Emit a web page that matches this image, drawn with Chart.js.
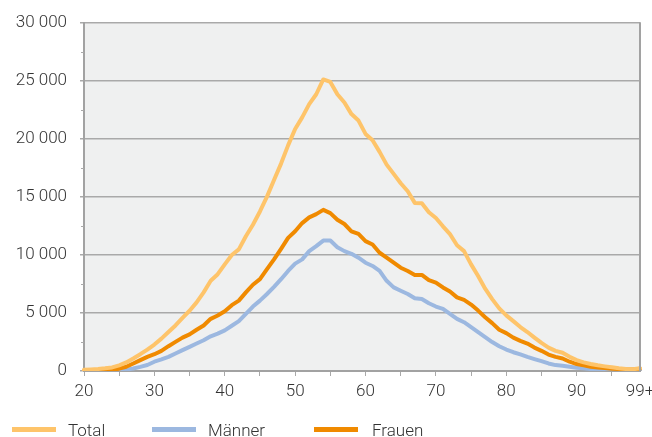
<!DOCTYPE html>
<html>
<head>
<meta charset="utf-8">
<script src="https://cdn.jsdelivr.net/npm/chart.js@4.4.1/dist/chart.umd.min.js"></script>
<style>
  html, body { margin: 0; padding: 0; background: #ffffff; }
  #wrap { position: relative; width: 652px; height: 437px; overflow: hidden; }
  #chart { position: absolute; left: 0; top: 0; }
  .lg-item { position: absolute; top: 0; height: 437px; }
  .lg-swatch { position: absolute; top: 427px; height: 5px; width: 44px; }
  .lg-text { position: absolute; top: 420px; line-height: 20px; font: 300 17px Roboto, "Open Sans", sans-serif; color: #333333; white-space: nowrap; }
</style>
</head>
<body>
<div id="wrap">
  <canvas id="chart" width="652" height="437"></canvas>
  <div id="legend"></div>
</div>
<script>
// Age groups on the x axis
const ages = [
  '20','21','22','23','24','25','26','27','28','29',
  '30','31','32','33','34','35','36','37','38','39',
  '40','41','42','43','44','45','46','47','48','49',
  '50','51','52','53','54','55','56','57','58','59',
  '60','61','62','63','64','65','66','67','68','69',
  '70','71','72','73','74','75','76','77','78','79',
  '80','81','82','83','84','85','86','87','88','89',
  '90','91','92','93','94','95','96','97','98','99+'
];

// Labelled x ticks
const xTickLabels = ['20','30','40','50','60','70','80','90','99+'];

// Labelled y ticks
const yTickValues = [0, 5000, 10000, 15000, 20000, 25000, 30000];

const seriesNames = ['Total', 'Männer', 'Frauen'];
const seriesColors = ['#fec46a', '#9cb8e0', '#f08a00'];

const total = [
  110, 140, 170, 230, 310, 490, 740, 1080, 1450, 1850,
  2280, 2790, 3360, 3930, 4590, 5200, 5920, 6780, 7780, 8350,
  9200, 10000, 10490, 11620, 12620, 13760, 15040, 16470, 17890, 19460,
  20880, 21880, 23020, 23870, 25150, 24930, 23870, 23160, 22160, 21600,
  20450, 19900, 18900, 17800, 17000, 16200, 15500, 14500, 14470, 13700,
  13200, 12480, 11800, 10850, 10340, 9200, 8200, 7100, 6200, 5400,
  4800, 4300, 3790, 3360, 2880, 2420, 2020, 1740, 1570, 1220,
  940, 740, 600, 490, 400, 320, 230, 170, 150, 230
];

const maenner = [
  10, 10, 20, 30, 40, 60, 120, 220, 360, 520,
  800, 1000, 1220, 1510, 1800, 2080, 2370, 2650, 2990, 3220,
  3500, 3900, 4300, 4930, 5560, 6070, 6640, 7260, 7920, 8630,
  9260, 9630, 10340, 10770, 11250, 11250, 10680, 10340, 10110, 9770,
  9340, 9060, 8630, 7780, 7210, 6920, 6640, 6270, 6210, 5840,
  5560, 5360, 4930, 4500, 4210, 3790, 3360, 2930, 2500, 2140,
  1850, 1620, 1430, 1220, 1030, 850, 650, 510, 450, 370,
  280, 230, 170, 140, 110, 80, 60, 50, 40, 40
];

const frauen = [
  30, 40, 60, 80, 110, 200, 370, 650, 940, 1220,
  1450, 1740, 2140, 2510, 2880, 3160, 3560, 3930, 4500, 4790,
  5150, 5680, 6070, 6780, 7440, 7920, 8780, 9630, 10540, 11480,
  12050, 12760, 13250, 13530, 13900, 13620, 13050, 12680, 12050, 11820,
  11200, 10910, 10200, 9770, 9340, 8910, 8630, 8290, 8290, 7840,
  7630, 7210, 6860, 6350, 6130, 5730, 5210, 4640, 4130, 3560,
  3270, 2880, 2600, 2370, 2020, 1740, 1420, 1220, 1080, 800,
  600, 490, 370, 310, 260, 200, 170, 140, 140, 200
];

const seriesData = [total, maenner, frauen];

const GRID = '#a9a9a9';
const AXIS = '#a2a2a2';
const TEXT = '#333333';
const FONT = { family: 'Roboto, "Open Sans", sans-serif', size: 17, weight: 300 };

function fmtThousands(v) {
  return String(v).replace(/\B(?=(\d{3})+(?!\d))/g, ' ');
}

// Plot background, right/top frame and short minor ticks on the value axis
const frame = {
  id: 'frame',
  beforeDraw(chart) {
    const { ctx, chartArea: a } = chart;
    ctx.save();
    ctx.fillStyle = '#eff0f0';
    ctx.fillRect(a.left, a.top, a.right - a.left, a.bottom - a.top);
    ctx.restore();
  },
  afterDraw(chart) {
    const { ctx, chartArea: a, scales } = chart;
    ctx.save();
    ctx.strokeStyle = AXIS;
    ctx.lineWidth = 2;
    ctx.beginPath();
    ctx.moveTo(a.right, a.top - 1);
    ctx.lineTo(a.right, a.bottom);
    ctx.stroke();
    ctx.lineWidth = 1;
    ctx.strokeStyle = GRID;
    for (let v = 2500; v < 30000; v += 5000) {
      const y = Math.round(scales.y.getPixelForValue(v)) + 0.5;
      ctx.beginPath();
      ctx.moveTo(a.left - 3, y);
      ctx.lineTo(a.left, y);
      ctx.stroke();
    }
    ctx.restore();
  }
};

const drawOrder = [0, 2, 1];

new Chart(document.getElementById('chart'), {
  type: 'line',
  data: {
    labels: ages,
    datasets: seriesNames.map((name, i) => ({
      label: name,
      data: seriesData[i],
      borderColor: seriesColors[i],
      backgroundColor: seriesColors[i],
      borderWidth: 4,
      pointRadius: 0,
      tension: 0,
      borderJoinStyle: 'round',
      borderCapStyle: 'round',
      fill: false,
      order: drawOrder[i]
    }))
  },
  options: {
    responsive: false,
    animation: false,
    layout: { padding: { left: 0, right: 12, top: 20, bottom: 36 } },
    plugins: { legend: { display: false }, tooltip: { enabled: false } },
    scales: {
      x: {
        type: 'category',
        offset: false,
        afterFit(s) { s.height = 30; s.paddingLeft = 0; s.paddingRight = 0; },
        border: { color: AXIS, width: 2 },
        grid: {
          drawOnChartArea: false,
          drawTicks: true,
          tickLength: 5,
          tickWidth: 1,
          tickColor: (c) => (c.index % 5 === 0 && c.index < ages.length - 1) ? GRID : 'rgba(0,0,0,0)'
        },
        ticks: {
          autoSkip: false,
          maxRotation: 0,
          minRotation: 0,
          padding: 6,
          color: TEXT,
          font: FONT,
          callback: (v, i) => xTickLabels.includes(ages[i]) ? ages[i] : ''
        }
      },
      y: {
        min: 0,
        max: 30000,
        afterFit(s) { s.width = 84; },
        afterBuildTicks(s) { s.ticks = yTickValues.map(v => ({ value: v })); },
        border: { color: AXIS, width: 2 },
        grid: {
          color: GRID,
          lineWidth: 1.5,
          tickLength: 4,
          tickColor: GRID
        },
        ticks: {
          padding: 13,
          color: TEXT,
          font: FONT,
          callback: (v) => fmtThousands(v)
        }
      }
    }
  },
  plugins: [frame]
});

// Legend row under the chart
const legendPos = [
  { swatch: 12, text: 68 },
  { swatch: 152, text: 208 },
  { swatch: 314, text: 372 }
];
const legend = document.getElementById('legend');
seriesNames.forEach((name, i) => {
  const sw = document.createElement('div');
  sw.className = 'lg-swatch';
  sw.style.left = legendPos[i].swatch + 'px';
  sw.style.background = seriesColors[i];
  const tx = document.createElement('div');
  tx.className = 'lg-text';
  tx.style.left = legendPos[i].text + 'px';
  tx.textContent = name;
  legend.appendChild(sw);
  legend.appendChild(tx);
});
</script>
</body>
</html>
